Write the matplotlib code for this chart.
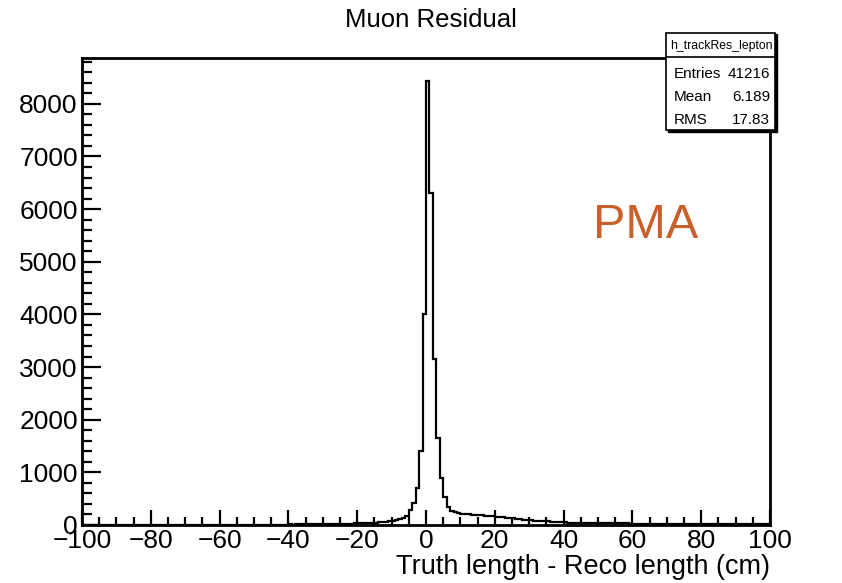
import numpy as np
import matplotlib
matplotlib.use("Agg")
import matplotlib.pyplot as plt
from matplotlib.patches import Rectangle

plt.rcParams['font.family'] = ['Liberation Sans', 'DejaVu Sans']

# 1 cm bins from -100 to 100
edges = np.arange(-100, 101, 1)
counts_left = [0, 1, 0, 0, 1, 0, 1, 0, 0, 1, 1, 0, 1, 1, 0, 1, 2, 1, 0, 1,
               1, 2, 1, 1, 2, 1, 2, 2, 1, 2, 2, 3, 2, 2, 3, 2, 3, 3, 4, 3,
               4, 3, 4, 5, 4, 5, 5, 6, 5, 6, 6, 7, 6, 7, 8, 7, 8, 9, 8, 9,
               10, 9, 11, 10, 12, 11, 13, 12, 14, 15,
               16, 17, 19, 18, 21, 22, 24, 26, 27, 30,
               32, 35, 37, 40, 44, 47, 52, 56, 62, 70,
               80, 92, 105, 130, 170, 290, 420, 700, 1400, 4000]
counts_right = [8440, 6300, 3150, 1650, 900, 540, 340, 270, 240, 225,
                212, 205, 200, 196, 193, 190, 186, 180, 172, 165,
                158, 150, 145, 138, 130, 124, 118, 110, 100, 94,
                88, 84, 80, 77, 74, 70, 65, 60, 55, 52,
                49, 47, 46, 44, 43, 41, 40, 38, 37, 36,
                35, 34, 33, 32, 32, 31, 30, 30, 29, 28,
                27, 27, 26, 25, 25, 24, 23, 23, 22, 22,
                21, 21, 20, 20, 19, 19, 18, 18, 17, 17,
                17, 16, 16, 16, 15, 15, 15, 14, 14, 14,
                13, 13, 13, 12, 12, 12, 12, 11, 11, 11]
counts = np.array(counts_left + counts_right)

stat_names = ["Entries", "Mean", "RMS"]
stat_values = ["41216", "6.189", "17.83"]

W, H = 842, 583
fig = plt.figure(figsize=(W / 100, H / 100), dpi=100)
ax = fig.add_axes([82 / W, 1 - 525 / H, (770 - 82) / W, (525 - 58) / H])

ax.stairs(counts, edges, color='black', linewidth=1.6)

ax.set_xlim(-100, 100)
ax.set_ylim(0, 8870)
ax.set_xticks(np.arange(-100, 101, 20))
ax.set_xticks(np.arange(-100, 101, 5), minor=True)
ax.set_yticks(np.arange(0, 8001, 1000))
ax.set_yticks(np.arange(0, 8870, 200), minor=True)
ax.tick_params(which='both', direction='in', top=False, right=False,
               labelsize=19, width=1.6, pad=3)
ax.tick_params(axis='x', which='major', length=11)
ax.tick_params(axis='x', which='minor', length=6)
ax.tick_params(axis='y', which='major', length=14)
ax.tick_params(axis='y', which='minor', length=7)
for s in ax.spines.values():
    s.set_linewidth(2)

ax.set_xticklabels(['\u2212' + str(-v) if v < 0 else str(v) for v in range(-100, 101, 20)])

fig.text(431 / W, 1 - 20 / H, "Muon Residual", ha='center', va='center', fontsize=18.5)
fig.text(770 / W, 1 - 567 / H, "Truth length - Reco length (cm)", ha='right',
         va='center', fontsize=19.5)
fig.text(646 / W, 1 - 226 / H, "PMA", ha='center', va='center', fontsize=35,
         color='#c8602c')

# stats box
def fx(p):
    return p / W

def fy(p):
    return 1 - p / H

box_l, box_r, box_t, box_b = 666, 775, 33, 130
fig.patches.append(Rectangle((fx(box_l + 1.5), fy(box_b + 1.5)), fx(box_r - box_l), (box_b - box_t) / H,
                             transform=fig.transFigure, facecolor='black', edgecolor='black', zorder=5))
fig.patches.append(Rectangle((fx(box_l), fy(box_b)), fx(box_r - box_l), (box_b - box_t) / H,
                             transform=fig.transFigure, facecolor='white', edgecolor='black',
                             linewidth=1.2, zorder=6))
fig.add_artist(plt.Line2D([fx(box_l), fx(box_r)], [fy(57), fy(57)], transform=fig.transFigure,
                          color='black', linewidth=1.2, zorder=7))
fig.text(fx(721), fy(46), "h_trackRes_lepton", ha='center', va='center', fontsize=8.8, zorder=8)
for i, (n, v) in enumerate(zip(stat_names, stat_values)):
    yy = fy(74 + i * 23)
    fig.text(fx(674), yy, n, ha='left', va='center', fontsize=11, zorder=8)
    fig.text(fx(770), yy, v, ha='right', va='center', fontsize=11, zorder=8)

fig.savefig("out.png", dpi=100)
